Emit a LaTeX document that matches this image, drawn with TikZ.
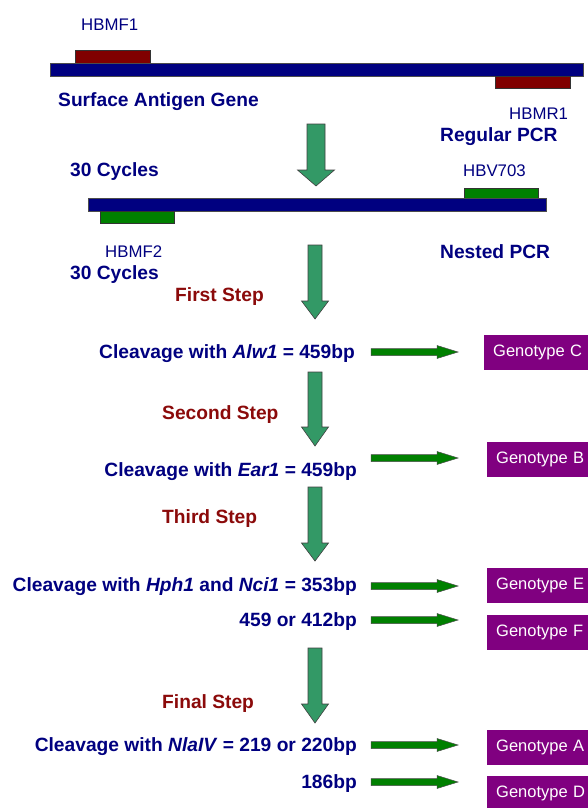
\documentclass[tikz,border=0pt]{standalone}
\usepackage{fontspec}
\setmainfont{Liberation Sans}
\definecolor{navy}{HTML}{000080}
\definecolor{maroon}{HTML}{800000}
\definecolor{steptxt}{HTML}{8B0A0A}
\definecolor{pgreen}{HTML}{008000}
\definecolor{bigarrow}{HTML}{339966}
\definecolor{purp}{HTML}{800080}
\newcommand\vArrow[6]{% xc, top, headstart, tip, shaft half, head half
  \filldraw[bigarr] (#1-#5,#2) -- (#1+#5,#2) -- (#1+#5,#3) -- (#1+#6,#3) -- (#1,#4) -- (#1-#6,#3) -- (#1-#5,#3) -- cycle;}
\newcommand\hArrow[3]{% x1, x2, y
  \filldraw[smallarr] (#1,#3-3.5) -- (#2-21,#3-3.5) -- (#2-21,#3-6.5) -- (#2,#3) -- (#2-21,#3+6.5) -- (#2-21,#3+3.5) -- (#1,#3+3.5) -- cycle;}
\begin{document}
\begin{tikzpicture}[x=1pt,y=-1pt,
  lbl/.style={font=\bfseries\fontsize{19.2}{21}\selectfont, text=navy, inner sep=0pt, anchor=west, yshift=-1.5pt},
  steplbl/.style={lbl, text=steptxt},
  primer/.style={font=\fontsize{16.8}{18}\selectfont, text=navy, inner sep=0pt, anchor=west, yshift=-1.5pt},
  bar/.style={fill=navy, draw=black!70, line width=0.5pt},
  rprimer/.style={fill=maroon, draw=black!80, line width=0.5pt},
  gprimer/.style={fill=pgreen, draw=black!80, line width=0.5pt},
  bigarr/.style={fill=bigarrow, draw=black!75, line width=0.6pt},
  smallarr/.style={fill=pgreen, draw=black!70, line width=0.5pt},
  geno/.style={fill=purp, text=white, font=\fontsize{16.5}{18}\selectfont, anchor=north west,
    minimum height=35pt, text width=100pt, inner xsep=9pt, inner ysep=0pt, align=left}]
\path[use as bounding box] (0,0) rectangle (588,808);
\clip (0,0) rectangle (588,808);
\fill[white] (0,0) rectangle (588,808);

% first gene
\filldraw[rprimer] (75,50) rectangle (150,63);
\filldraw[bar] (50.5,63) rectangle (583,76);
\filldraw[rprimer] (495,76) rectangle (570,88);
\node[primer] (hbmf1) at (81,23) {HBMF1};
\node[lbl] (sag) at (58,100) {Surface Antigen Gene};
\node[primer] (hbmr1) at (509,112) {HBMR1};
\node[lbl] (rpcr) at (440,135) {Regular PCR};

\vArrow{316}{124}{170}{186}{9}{18.5}

% second gene
\node[lbl] (cyc1) at (70,170) {30 Cycles};
\node[primer] (hbv) at (463,169) {HBV703};
\filldraw[gprimer] (464,188) rectangle (538,198);
\filldraw[bar] (88,198) rectangle (546,211);
\filldraw[gprimer] (100,211) rectangle (174,223);
\node[primer] (hbmf2) at (105,250) {HBMF2};
\node[lbl] (npcr) at (440,250) {Nested PCR};
\node[lbl] (cyc2) at (70,273) {30 Cycles};

\vArrow{315}{245}{301}{319}{7}{13.5}
\node[steplbl] (s1) at (175,295) {First Step};

\node[lbl, anchor=east] (c1) at (355,352) {Cleavage with \textit{Alw1} = 459bp};
\hArrow{371}{458}{352}
\node[geno] (gC) at (484,335) {Genotype C};

\vArrow{315}{372}{427}{446}{7}{13.5}
\node[steplbl] (s2) at (162,413) {Second Step};

\node[lbl, anchor=east] (c2) at (357,470) {Cleavage with \textit{Ear1} = 459bp};
\hArrow{371}{458}{458}
\node[geno] (gB) at (487,442) {Genotype B};

\vArrow{315}{487}{543}{561}{7}{13.5}
\node[steplbl] (s3) at (162,517) {Third Step};

\node[lbl, anchor=east] (c3) at (357,585) {Cleavage with \textit{Hph1} and \textit{Nci1} = 353bp};
\hArrow{371}{458}{586}
\node[geno] (gE) at (487,568) {Genotype E};
\node[lbl, anchor=east] (c3b) at (357,620) {459 or 412bp};
\hArrow{371}{458}{620}
\node[geno] (gF) at (487,615) {Genotype F};

\vArrow{315}{648}{704}{723}{7}{13.5}
\node[steplbl] (s4) at (162,702) {Final Step};

\node[lbl, anchor=east] (c4) at (357,745) {Cleavage with \textit{NlaIV} = 219 or 220bp};
\hArrow{371}{458}{745}
\node[geno] (gA) at (487,730) {Genotype A};
\node[lbl, anchor=east] (c4b) at (357,782) {186bp};
\hArrow{371}{458}{782}
\node[geno] (gD) at (487,776) {Genotype D};
\end{tikzpicture}
\end{document}
